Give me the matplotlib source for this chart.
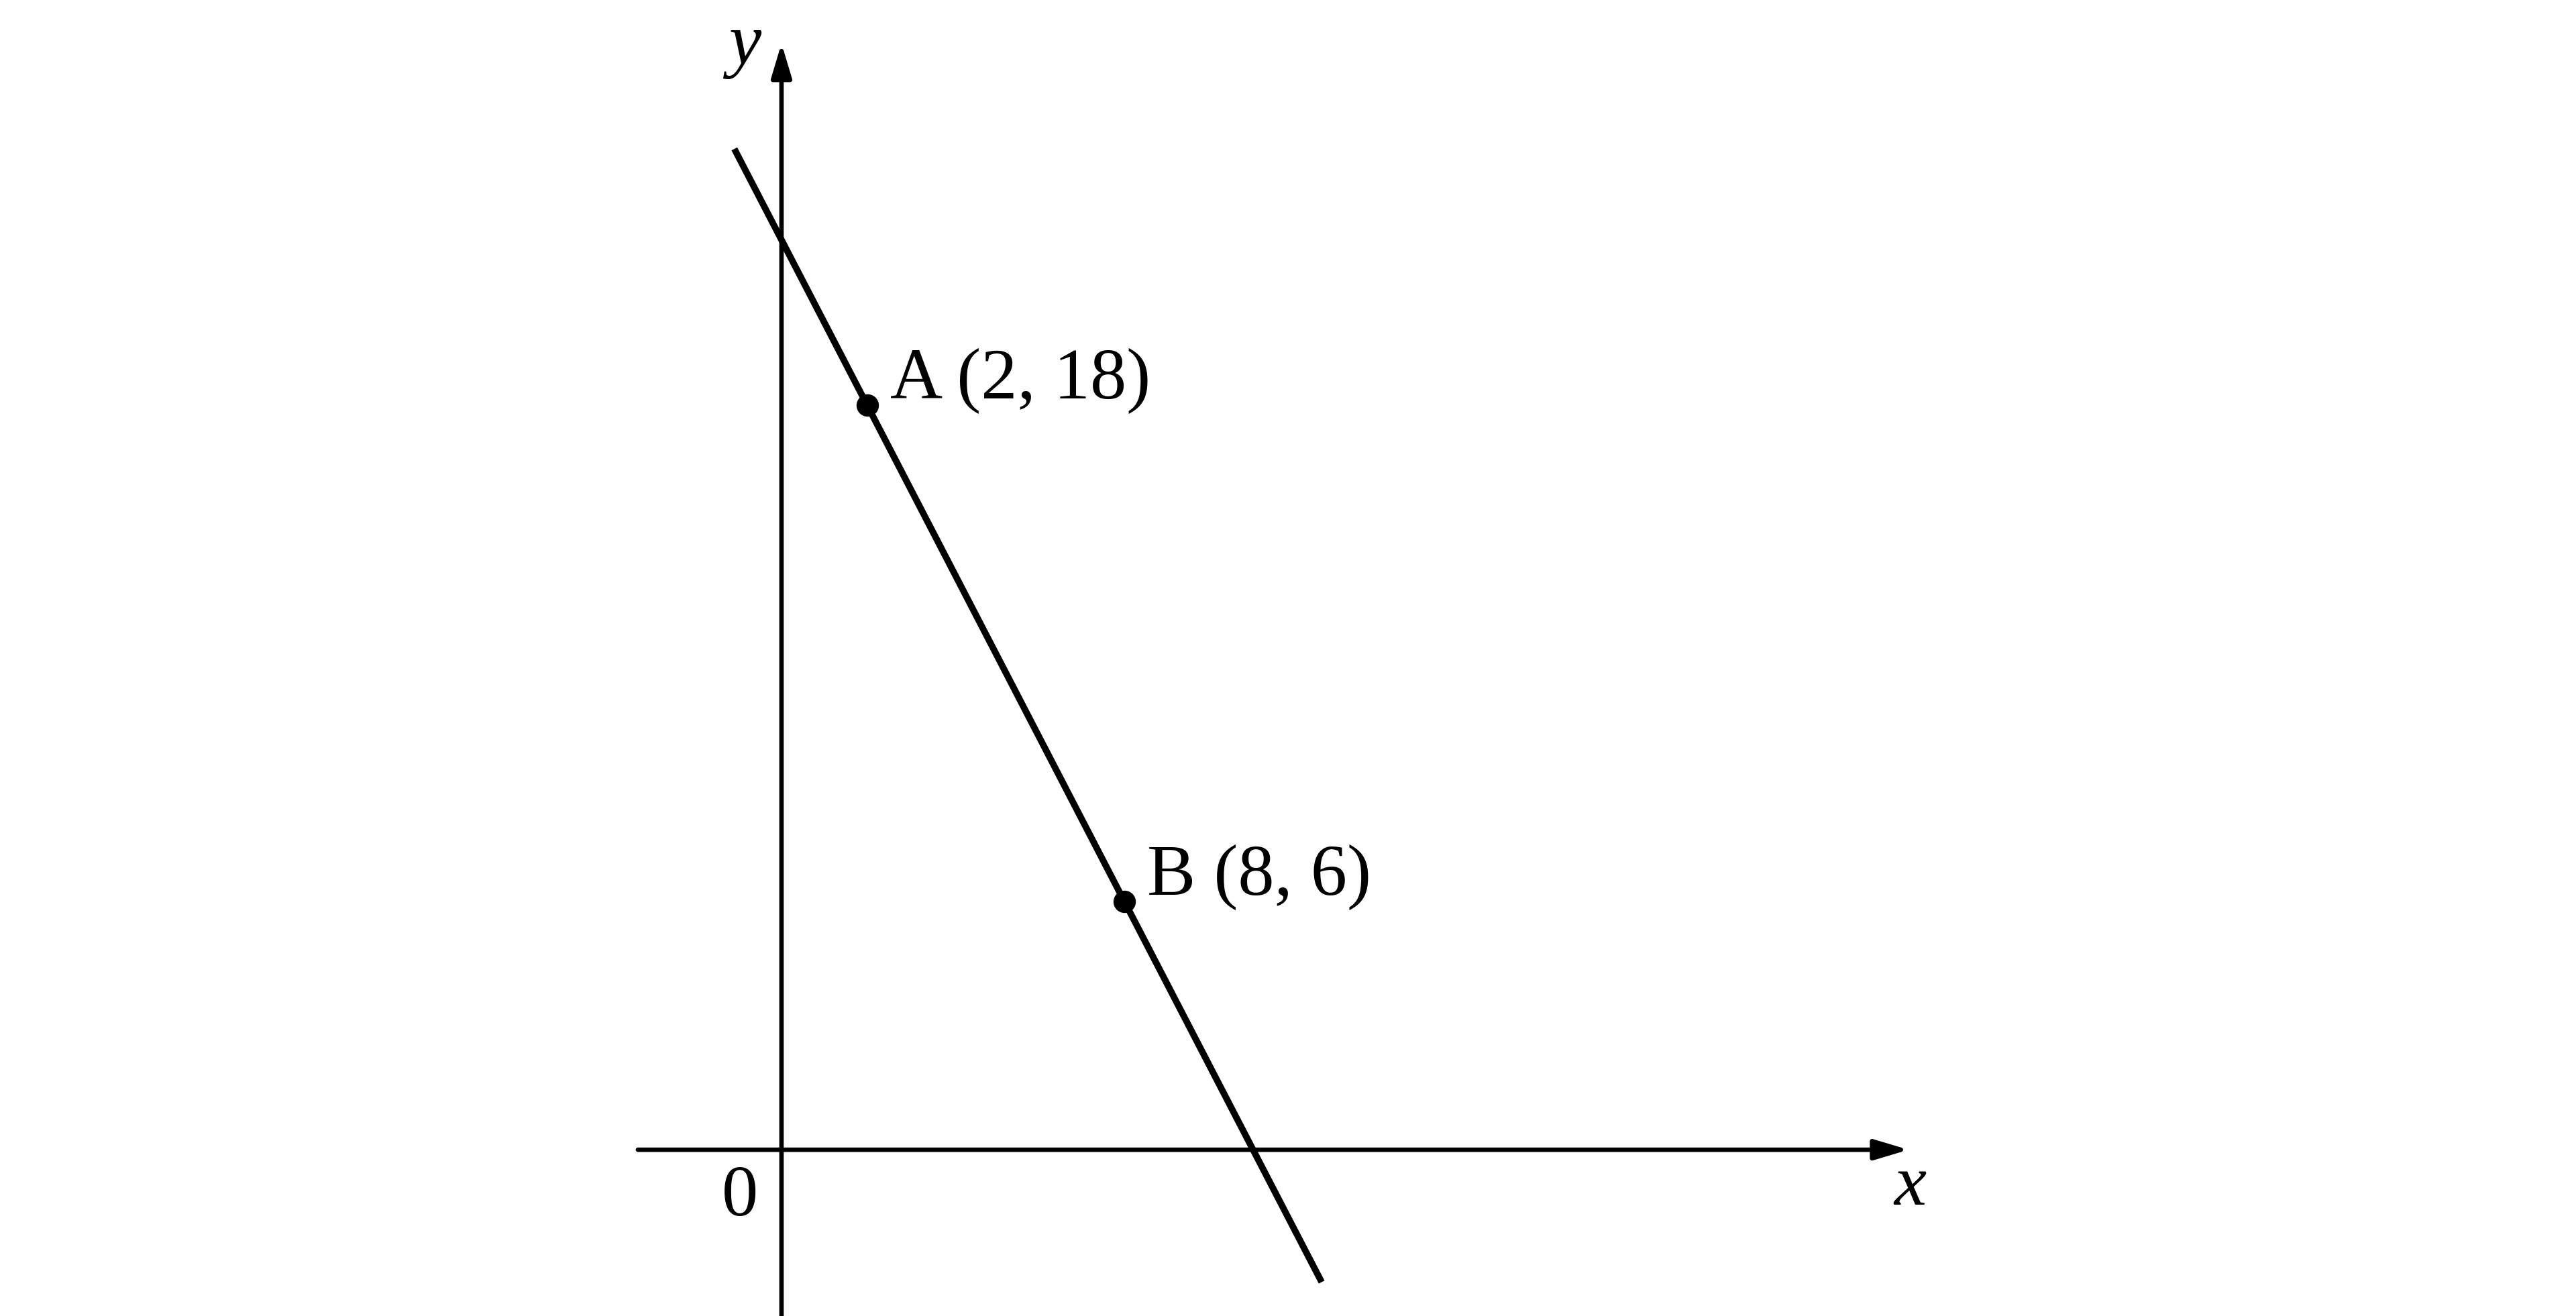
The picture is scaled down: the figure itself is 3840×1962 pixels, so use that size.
import matplotlib

matplotlib.use("Agg")
import matplotlib.pyplot as plt  # noqa: E402

# points on the line and their labels
POINT_X = [2, 8]
POINT_Y = [18, 6]
POINT_LABELS = ["A (2, 18)", "B (8, 6)"]

# the drawn segment of the line through A and B
LINE_X = [-1.1, 12.6]
LINE_Y = [24.2, -3.2]

# axis extents (schematic)
XAXIS_RANGE = [-3.35, 26.29]
YAXIS_RANGE = [-4.2, 26.75]

SERIF = ["Liberation Serif", "DejaVu Serif"]
FS = 78
AX_LW = 4.8

plt.rcParams["font.family"] = SERIF

fig = plt.figure(figsize=(38.4, 19.62), dpi=100)
ax = fig.add_axes([0, 0, 1, 1])
ax.set_xlim(-18.23, 41.86)
ax.set_ylim(-4.02, 27.80)
ax.set_axis_off()

arrow = dict(arrowstyle="-|>,head_length=0.4,head_width=0.12", mutation_scale=77,
             lw=AX_LW, color="black", shrinkA=0, shrinkB=0)
ax.annotate("", xy=(XAXIS_RANGE[1], 0), xytext=(XAXIS_RANGE[0], 0), arrowprops=arrow)
ax.annotate("", xy=(0, YAXIS_RANGE[1]), xytext=(0, YAXIS_RANGE[0]), arrowprops=arrow)

ax.plot(LINE_X, LINE_Y, color="black", lw=7.0, solid_capstyle="butt")
ax.plot(POINT_X, POINT_Y, "o", color="black", ms=23, zorder=5)

for x, y, lab in zip(POINT_X, POINT_Y, POINT_LABELS):
    ax.annotate(lab, xy=(x, y), xytext=(34, 10), textcoords="offset pixels",
                fontsize=FS, ha="left", va="baseline")

ax.text(-0.97, -1.59, "0", fontsize=FS, ha="center", va="baseline")
ax.text(26.32, -1.33, "x", fontsize=FS, style="italic", ha="center", va="baseline")
ax.text(-0.86, 26.26, "y", fontsize=FS, style="italic", ha="center", va="baseline")

fig.savefig("out.png", dpi=100)
plt.close(fig)
